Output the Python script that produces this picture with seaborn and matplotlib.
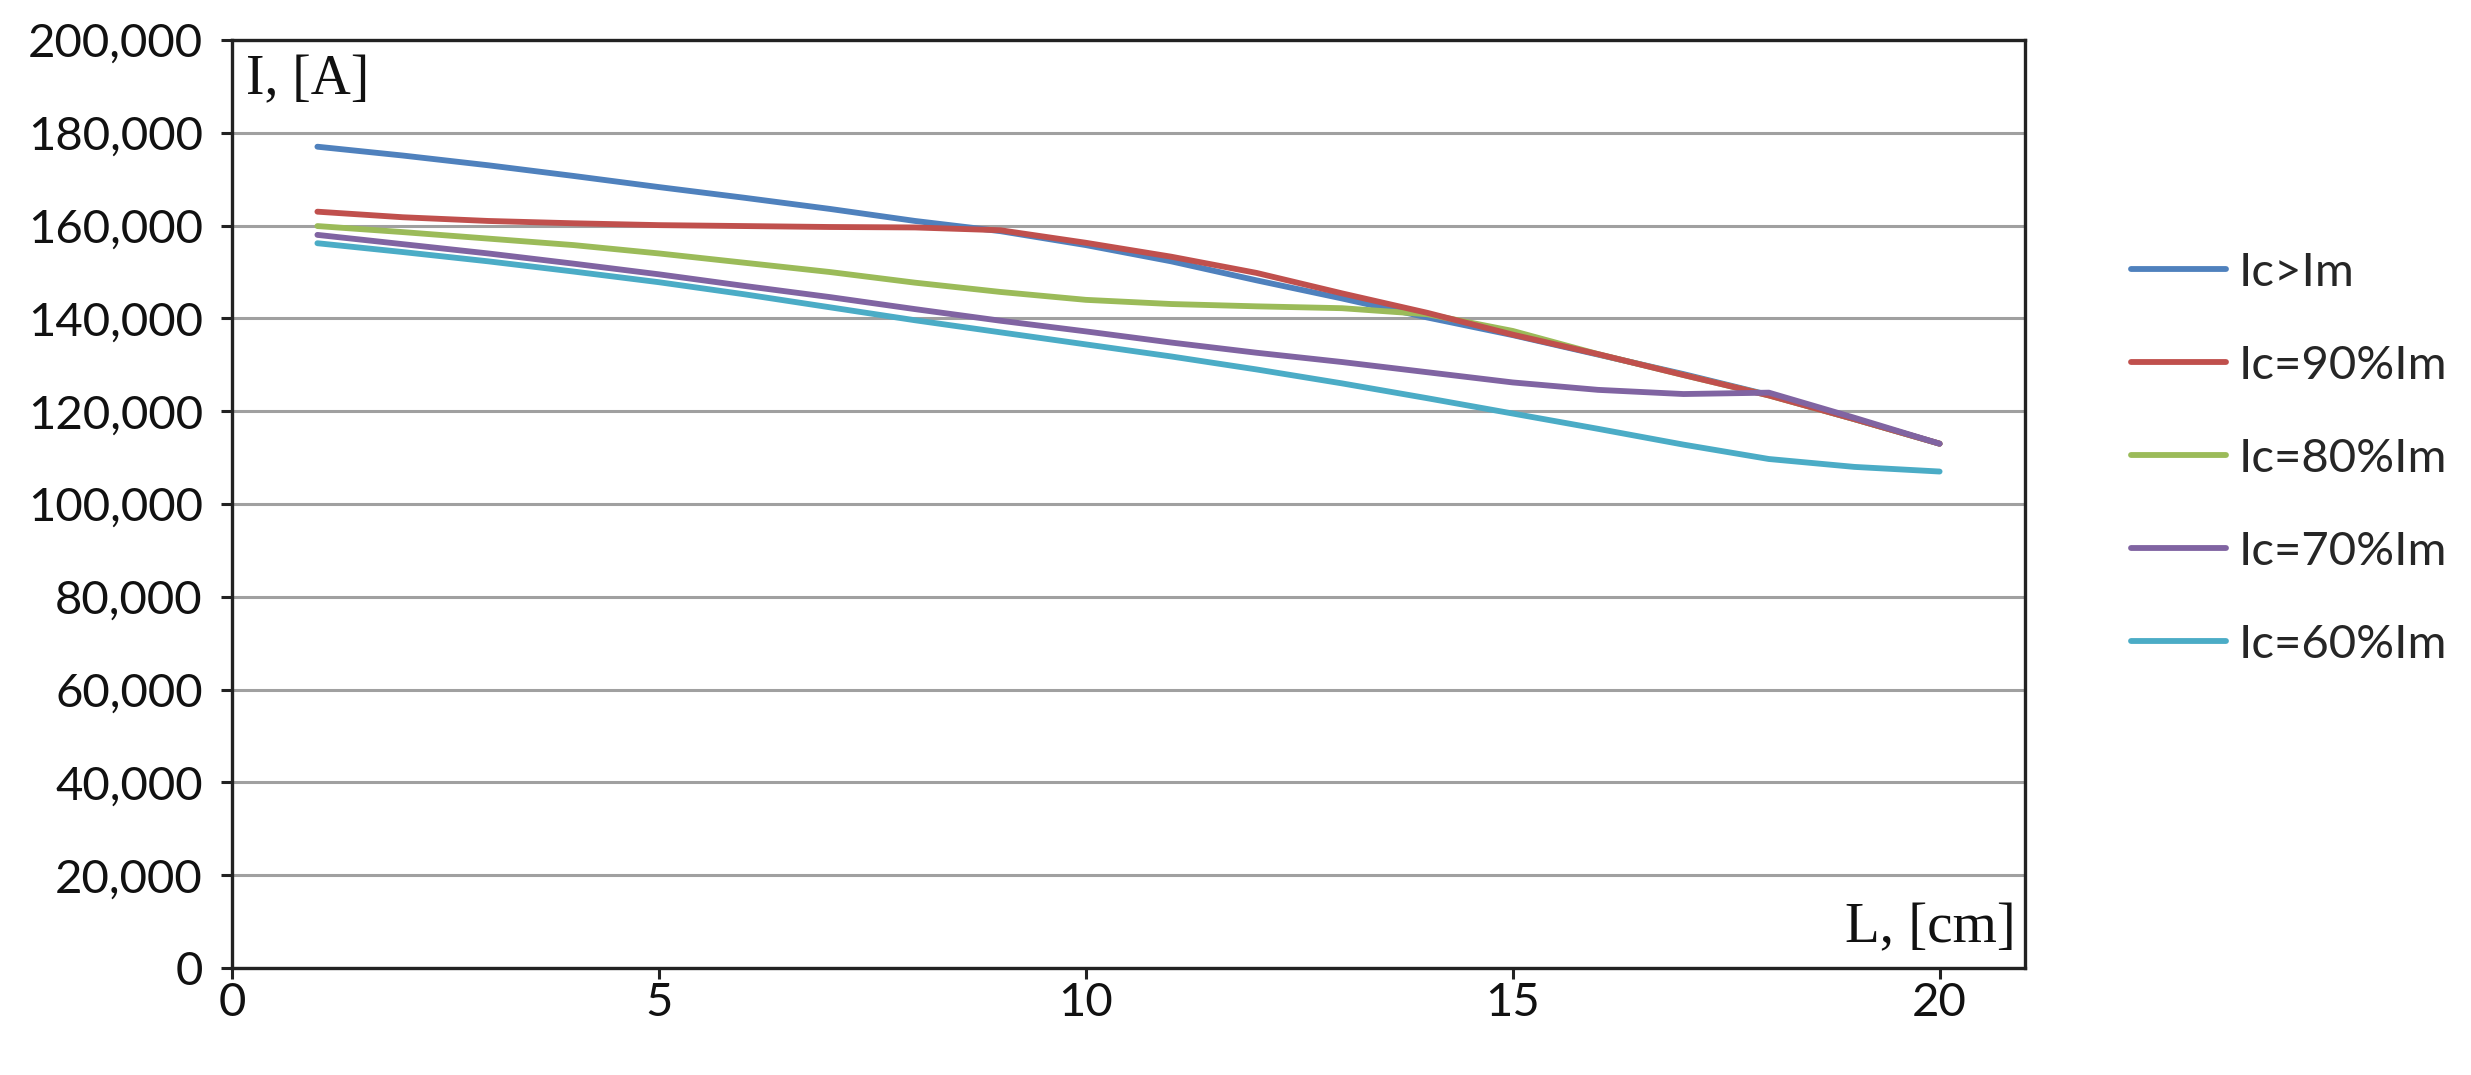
import numpy as np
import pandas as pd
import matplotlib
matplotlib.use('Agg')
import matplotlib.pyplot as plt
import matplotlib.ticker as mticker
import seaborn as sns

# Data (L in cm, I in A)
L_cm = list(range(1, 21))
ic_gt_im = [177000, 175100, 173000, 170700, 168300, 166000, 163600, 161000, 158800, 155800,
            152300, 148200, 144300, 140200, 136400, 132200, 128000, 123500, 118300, 113000]
ic_90 = [163000, 161800, 161000, 160500, 160100, 159900, 159700, 159600, 159000, 156300,
         153300, 149800, 145400, 141200, 136500, 132300, 127800, 123400, 118300, 113000]
ic_80 = [159900, 158600, 157200, 155800, 154000, 152000, 150000, 147700, 145700, 144000,
         143100, 142600, 142200, 140900, 137300, 132300, 127800, 123400, 118300, 113000]
ic_70 = [158000, 156000, 154000, 151800, 149500, 147000, 144600, 142000, 139500, 137200,
         134800, 132600, 130600, 128400, 126200, 124600, 123700, 124000, 118600, 113000]
ic_60 = [156200, 154300, 152300, 150100, 147800, 145200, 142400, 139600, 137000, 134400,
         131800, 129000, 126000, 122800, 119500, 116200, 112800, 109700, 108000, 107000]

series_names = ['Ic>Im', 'Ic=90%Im', 'Ic=80%Im', 'Ic=70%Im', 'Ic=60%Im']
series_vals = [ic_gt_im, ic_90, ic_80, ic_70, ic_60]
colors = ['#4F81BD', '#C0504D', '#9BBB59', '#8064A2', '#4BACC6']

df = pd.concat([pd.DataFrame({'L': L_cm, 'I': v, 'series': n})
                for n, v in zip(series_names, series_vals)], ignore_index=True)

sns.set_theme(style='white')
plt.rcParams['font.family'] = ['Lato', 'DejaVu Sans']

fig = plt.figure(figsize=(24.71, 10.75), dpi=100)
ax = fig.add_axes([0.0939, 0.0995, 0.7256, 0.8633])

sns.lineplot(data=df, x='L', y='I', hue='series', hue_order=series_names,
             palette=colors, linewidth=4.2, errorbar=None, legend=False, ax=ax)

# green sits under the red curve where they merge
for line, z in zip(ax.lines, [2.0, 2.4, 2.2, 2.6, 2.8]):
    line.set_zorder(z)

ax.set_xlim(0, 21)
ax.set_ylim(0, 200000)
ax.set_xticks([0, 5, 10, 15, 20])
ax.set_yticks(np.arange(0, 200001, 20000))
ax.yaxis.set_major_formatter(mticker.StrMethodFormatter('{x:,.0f}'))
ax.set_xlabel('')
ax.set_ylabel('')

ax.grid(axis='y', color='#a0a0a0', linewidth=2.2)
ax.grid(axis='x', visible=False)
for sp in ax.spines.values():
    sp.set_visible(True)
    sp.set_color('#222222')
    sp.set_linewidth(2.4)

ax.tick_params(axis='both', which='major', direction='out', length=8, width=2.2,
               color='#222222', labelsize=34, labelcolor='#111111')
ax.tick_params(axis='x', pad=2, top=False, bottom=True)
ax.tick_params(axis='y', pad=13, left=True, right=False)

ax.text(0.008, 0.985, 'I, [A]', transform=ax.transAxes, ha='left', va='top',
        fontsize=40, family=['Liberation Serif', 'DejaVu Serif'], color='#111111')
ax.text(0.995, 0.015, 'L, [cm]', transform=ax.transAxes, ha='right', va='bottom',
        fontsize=41, family=['Liberation Serif', 'DejaVu Serif'], color='#111111')

handles = [plt.Line2D([], [], color=c, linewidth=4.2) for c in colors]
fig.legend(handles, series_names, loc='center left', bbox_to_anchor=(0.853, 0.573),
           frameon=False, fontsize=34, handlelength=2.0, handletextpad=0.27,
           labelspacing=1.08, borderpad=0)

fig.savefig('out.png', dpi=100)
